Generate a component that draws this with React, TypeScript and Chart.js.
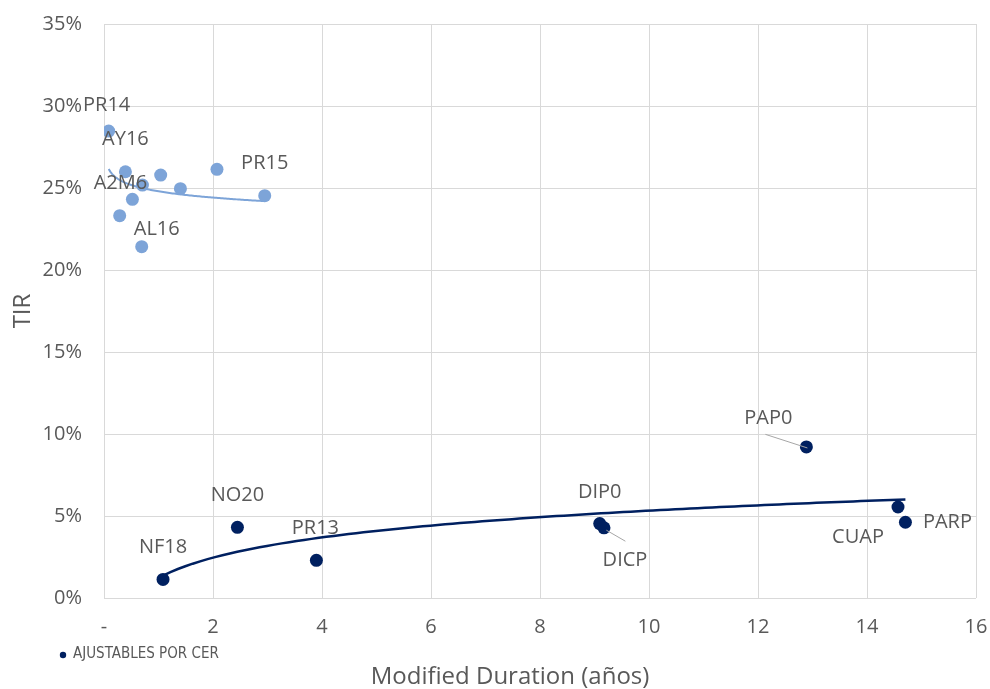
import React, { useEffect, useRef } from 'react';
import { Chart, registerables } from 'chart.js';

Chart.register(...registerables);

// ---- Data ----
const usdNames = ['PR14', 'AY16', '', '', '', '', 'A2M6', 'PR15', '', 'AL16'];
const usdDuration = [0.086, 0.393, 1.04, 2.073, 0.705, 1.402, 0.521, 2.949, 0.288, 0.692];
const usdTir = [28.47, 25.99, 25.79, 26.14, 25.18, 24.96, 24.31, 24.53, 23.31, 21.42];

const cerNames = ['NF18', 'NO20', 'PR13', 'DIP0', 'DICP', 'PAP0', 'CUAP', 'PARP'];
const cerDuration = [1.083, 2.448, 3.897, 9.096, 9.174, 12.888, 14.569, 14.705];
const cerTir = [1.13, 4.31, 2.3, 4.54, 4.28, 9.21, 5.55, 4.62];

const xZeroLabel = '-';
const ySuffix = '%';
const legendLabel = 'AJUSTABLES POR CER';
const xTitle = 'Modified Duration (años)';
const yTitle = 'TIR';

// ---- Styling ----
const LIGHT = '#7DA4D8';
const DARK = '#002060';
const TEXT = '#595959';
const GRID = '#D9D9D9';
const FONT = "'Open Sans', 'Noto Sans', sans-serif";
const NARROW = "'Liberation Sans Narrow', 'DejaVu Sans Condensed', sans-serif";

// label placement (pixel offsets from the point centre)
const LABEL_OFFSETS: Record<string, [number, number]> = {
  PR14: [-2, -26],
  AY16: [0, -32],
  A2M6: [-12, -16],
  AL16: [15, -17],
  PR15: [0, -32],
  NF18: [0, -32.5],
  NO20: [0, -32],
  PR13: [-1, -32],
  DIP0: [0, -31],
  DICP: [21, 32],
  PAP0: [-38, -28.5],
  CUAP: [-40, 30.5],
  PARP: [42, 0],
};
const LEADERS: Record<string, [[number, number], [number, number]]> = {
  PAP0: [[-41, -12.6], [1, 1]],
  DICP: [[2.4, 2.4], [21.4, 13.4]],
};

function logFit(xs: number[], ys: number[]) {
  const lx = xs.map((v) => Math.log(v));
  const n = xs.length;
  const mx = lx.reduce((s, v) => s + v, 0) / n;
  const my = ys.reduce((s, v) => s + v, 0) / n;
  let num = 0;
  let den = 0;
  for (let i = 0; i < n; i++) {
    num += (lx[i] - mx) * (ys[i] - my);
    den += (lx[i] - mx) * (lx[i] - mx);
  }
  const b = num / den;
  return { a: my - b * mx, b };
}

function trendline(xs: number[], ys: number[], samples = 100) {
  const { a, b } = logFit(xs, ys);
  const lo = Math.min(...xs);
  const hi = Math.max(...xs);
  const pts: { x: number; y: number }[] = [];
  for (let i = 0; i <= samples; i++) {
    const x = lo + ((hi - lo) * i) / samples;
    pts.push({ x, y: a + b * Math.log(x) });
  }
  return pts;
}

const labelPlugin = {
  id: 'pointLabels',
  afterDatasetsDraw(chart: any) {
    const ctx = chart.ctx as CanvasRenderingContext2D;
    ctx.save();
    chart.data.datasets.forEach((ds: any, i: number) => {
      const names: string[] | undefined = ds.pointNames;
      if (!names) return;
      const meta = chart.getDatasetMeta(i);
      meta.data.forEach((el: any, j: number) => {
        const name = names[j];
        if (!name) return;
        const leader = LEADERS[name];
        if (leader) {
          ctx.strokeStyle = '#A6A6A6';
          ctx.lineWidth = 1;
          ctx.beginPath();
          ctx.moveTo(el.x + leader[0][0], el.y + leader[0][1]);
          ctx.lineTo(el.x + leader[1][0], el.y + leader[1][1]);
          ctx.stroke();
        }
        const off = LABEL_OFFSETS[name] || [0, -32];
        ctx.font = `20px ${FONT}`;
        ctx.fillStyle = TEXT;
        ctx.textAlign = 'center';
        ctx.textBaseline = 'middle';
        ctx.fillText(name, el.x + off[0], el.y + off[1]);
      });
    });
    ctx.restore();
  },
};

const decorPlugin = {
  id: 'decor',
  afterDraw(chart: any) {
    const ctx = chart.ctx as CanvasRenderingContext2D;
    ctx.save();
    // legend
    ctx.fillStyle = DARK;
    ctx.beginPath();
    ctx.arc(63, 655, 3.2, 0, Math.PI * 2);
    ctx.fill();
    ctx.font = `15px ${NARROW}`;
    ctx.fillStyle = TEXT;
    ctx.textAlign = 'left';
    ctx.textBaseline = 'middle';
    ctx.fillText(legendLabel, 73, 654.5);
    // x axis title
    ctx.font = `24px ${FONT}`;
    ctx.textAlign = 'center';
    ctx.fillText(xTitle, 510, 677);
    ctx.restore();
  },
};

export default function App() {
  const ref = useRef<HTMLCanvasElement | null>(null);

  useEffect(() => {
    if (!ref.current) return;
    const chart = new Chart(ref.current, {
      type: 'scatter',
      data: {
        datasets: [
          {
            label: 'USD',
            data: usdDuration.map((x, i) => ({ x, y: usdTir[i] })),
            pointNames: usdNames,
            backgroundColor: LIGHT,
            borderWidth: 0,
            pointRadius: 6.5,
            order: 0,
          } as any,
          {
            label: legendLabel,
            data: cerDuration.map((x, i) => ({ x, y: cerTir[i] })),
            pointNames: cerNames,
            backgroundColor: DARK,
            borderWidth: 0,
            pointRadius: 6.5,
            order: 0,
          } as any,
          {
            label: 'trend usd',
            data: trendline(usdDuration, usdTir),
            showLine: true,
            borderColor: LIGHT,
            borderWidth: 2,
            pointRadius: 0,
            order: 1,
          } as any,
          {
            label: 'trend cer',
            data: trendline(cerDuration, cerTir),
            showLine: true,
            borderColor: DARK,
            borderWidth: 2.5,
            pointRadius: 0,
            order: 1,
          } as any,
        ],
      },
      options: {
        animation: false,
        responsive: false,
        events: [],
        layout: { padding: { top: 24, right: 14, left: 0, bottom: 0 } },
        plugins: {
          legend: { display: false },
          tooltip: { enabled: false },
        },
        scales: {
          x: {
            type: 'linear',
            min: 0,
            max: 16,
            ticks: {
              stepSize: 2,
              padding: 17,
              color: TEXT,
              font: { family: FONT, size: 20 },
              callback: (v: any) => (Number(v) === 0 ? xZeroLabel : String(v)),
            },
            grid: { color: GRID, lineWidth: 1, drawTicks: false },
            border: { display: false },
            afterFit: (scale: any) => {
              scale.height = 91;
              scale.paddingLeft = 0;
              scale.paddingRight = 0;
            },
          },
          y: {
            type: 'linear',
            min: 0,
            max: 35,
            ticks: {
              stepSize: 5,
              padding: 22,
              color: TEXT,
              font: { family: FONT, size: 20 },
              callback: (v: any) => `${v}${ySuffix}`,
            },
            grid: { color: GRID, lineWidth: 1, drawTicks: false },
            border: { display: false },
            title: {
              display: true,
              text: yTitle,
              color: TEXT,
              font: { family: FONT, size: 24, lineHeight: 1 },
              padding: { top: 11, bottom: 0 },
            },
            afterFit: (scale: any) => {
              scale.width = 104;
              scale.paddingTop = 0;
              scale.paddingBottom = 0;
            },
          },
        },
      } as any,
      plugins: [labelPlugin, decorPlugin],
    });
    return () => chart.destroy();
  }, []);

  return (
    <div style={{ position: 'absolute', left: 0, top: 0, width: 990, height: 689, background: '#fff' }}>
      <canvas ref={ref} width={990} height={689} style={{ width: 990, height: 689, display: 'block' }} />
    </div>
  );
}
